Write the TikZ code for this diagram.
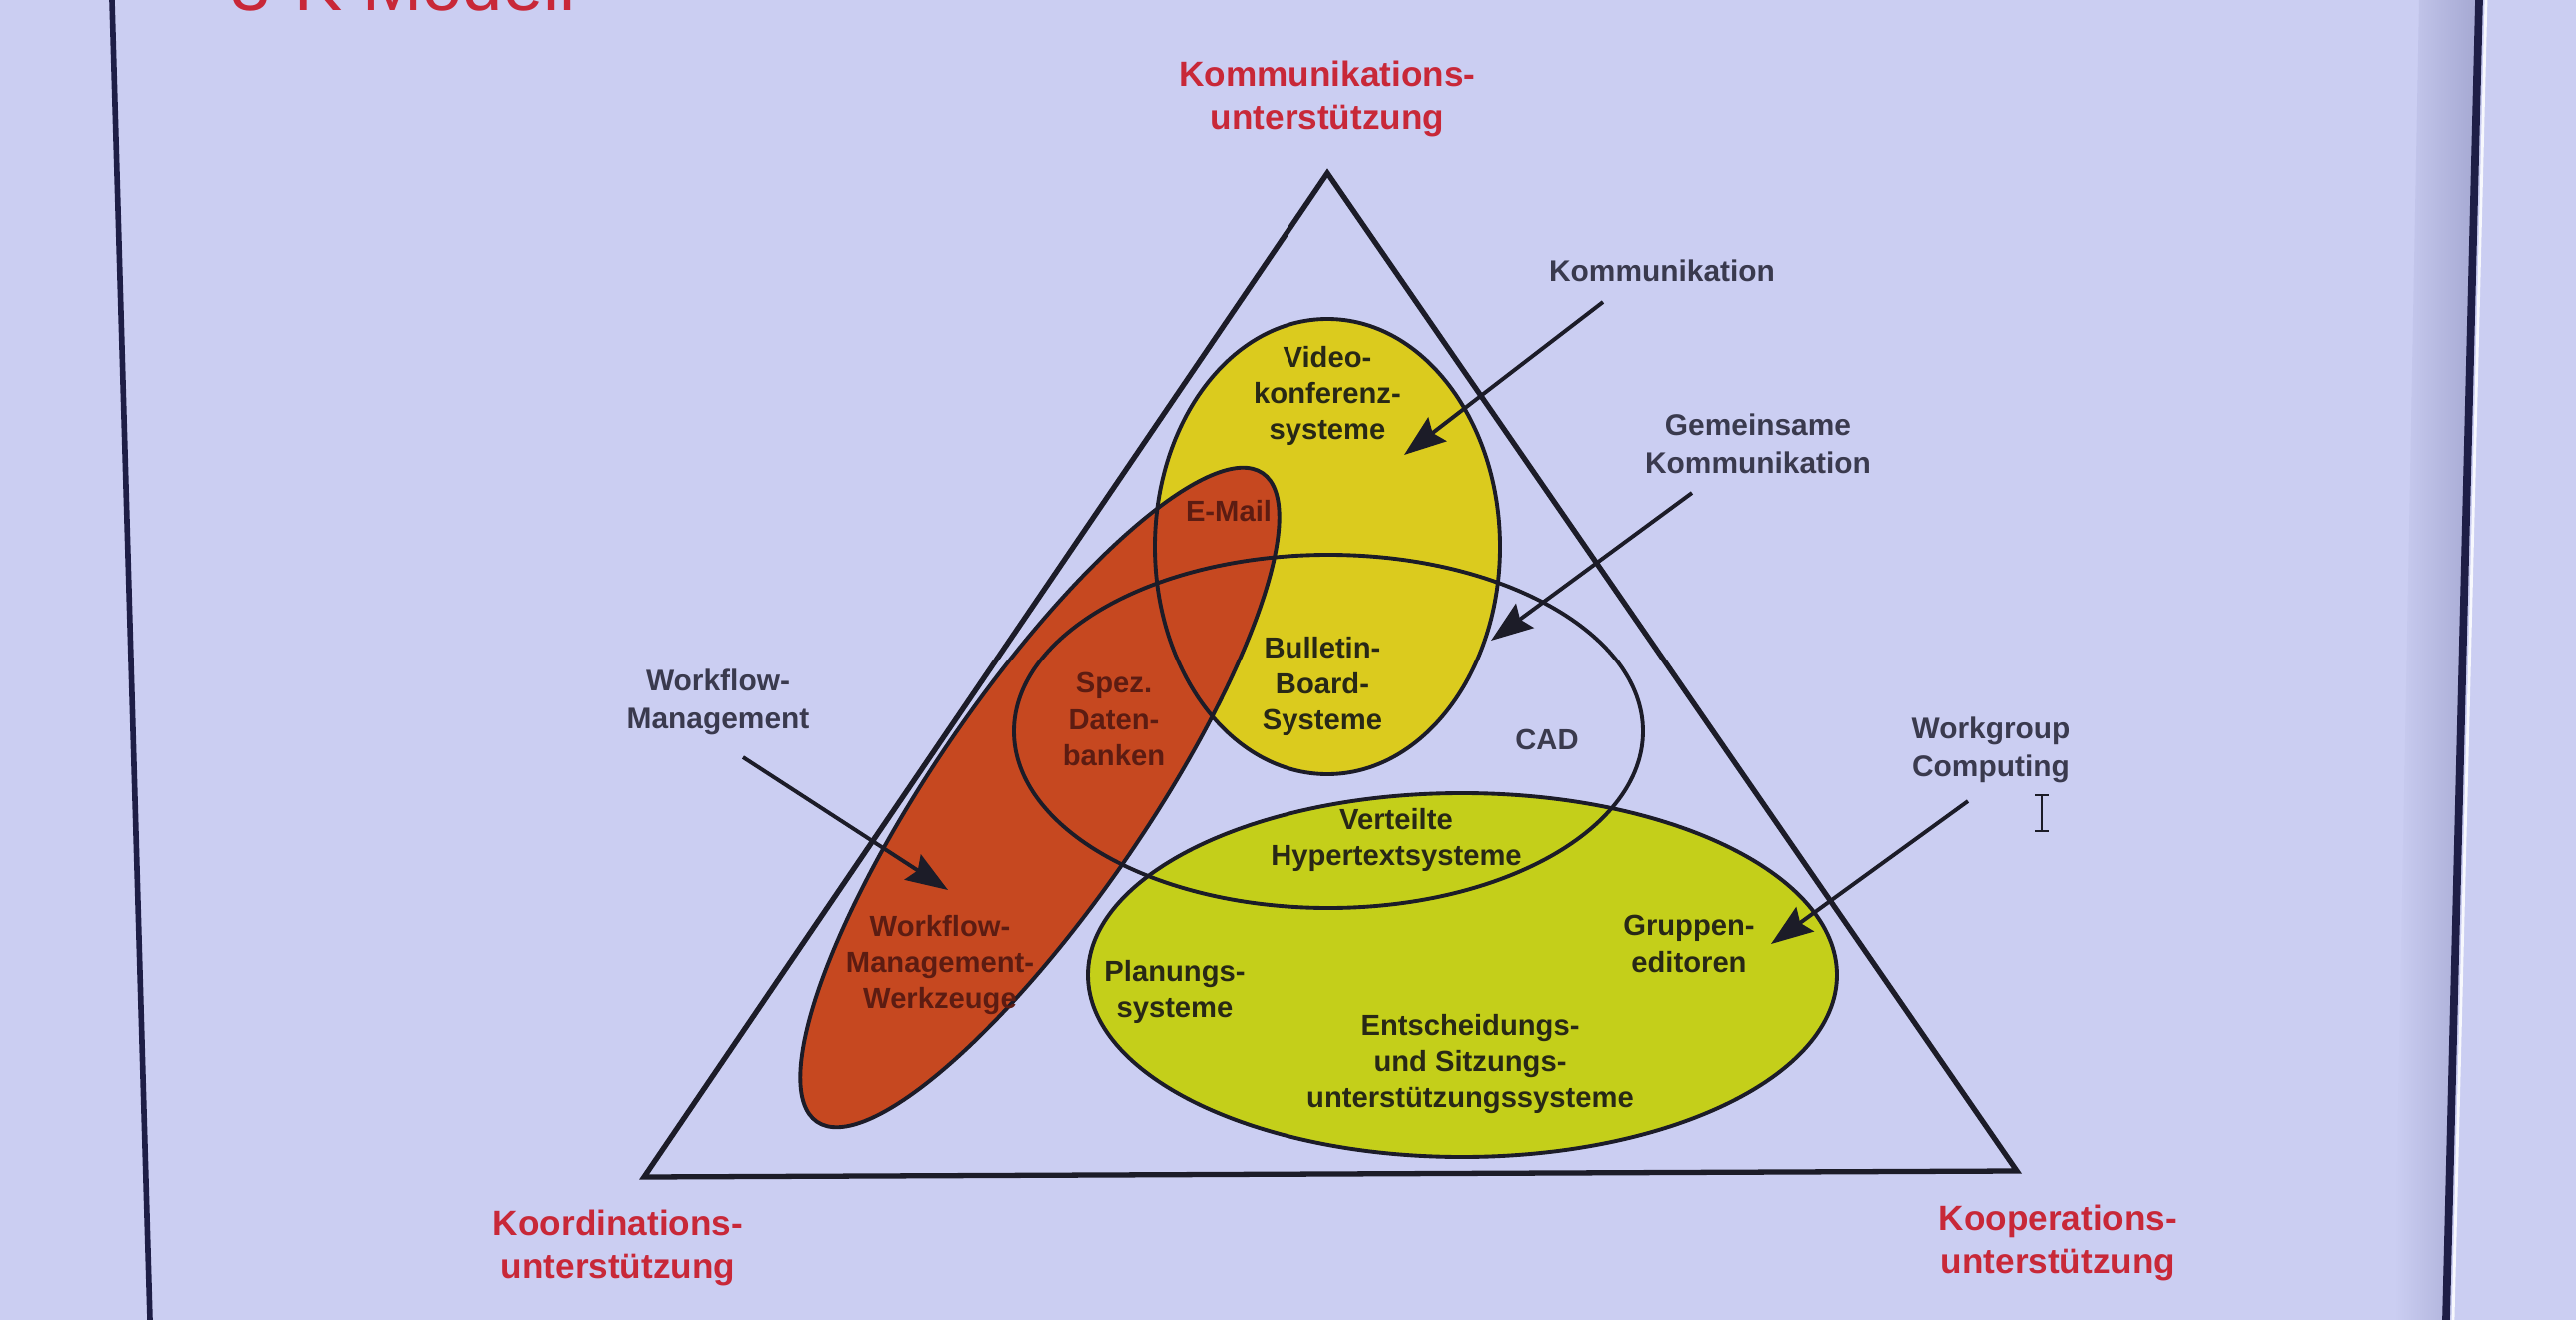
\documentclass[tikz,border=0pt]{standalone}
\usepackage{fontspec}
\setmainfont{Liberation Sans}
\usetikzlibrary{arrows.meta}
\definecolor{bgc}{RGB}{203,206,242}
\definecolor{shadowc}{RGB}{165,168,210}
\definecolor{framec}{RGB}{30,30,70}
\definecolor{yellowc}{RGB}{219,203,30}
\definecolor{redc}{RGB}{198,72,32}
\definecolor{greenc}{RGB}{196,207,26}
\definecolor{titlered}{RGB}{200,40,56}
\definecolor{inktext}{RGB}{40,40,22}
\definecolor{redtext}{RGB}{92,28,18}
\definecolor{greytext}{RGB}{58,58,78}
\definecolor{linec}{RGB}{28,28,40}
\tikzset{
  titlelbl/.style={text=titlered, font=\bfseries\fontsize{10}{12.2}\selectfont, align=center, inner sep=0pt},
  inlbl/.style={text=inktext, font=\bfseries\fontsize{8.3}{10.3}\selectfont, align=center, inner sep=0pt},
  redlbl/.style={inlbl, text=redtext},
  outlbl/.style={text=greytext, font=\bfseries\fontsize{8.5}{10.8}\selectfont, align=center, inner sep=0pt},
  ellline/.style={draw=linec, line width=1.1pt},
  triline/.style={draw=linec, line width=1.5pt, line join=miter},
  arr/.style={draw=linec, line width=1.1pt, -{Stealth[length=0.42cm,width=0.3cm,inset=0.06cm]}}
}
\begin{document}
\begin{tikzpicture}[x=0.01cm,y=-0.01cm]
\clip (0,0) rectangle (2577,1321);
\useasboundingbox (0,0) rectangle (2577,1321);
% screen background
\fill[bgc] (0,0) rectangle (2577,1321);
\shade[left color=bgc, right color=shadowc] (2420,0) -- (2478,0) -- (2445,1321) -- (2395,1321) -- cycle;
\draw[framec, line width=1.6pt] (112,0) -- (150,1321);
\draw[framec, line width=2.2pt] (2480,0) -- (2447,1321);
\draw[white!85!bgc, line width=0.8pt] (2487,0) -- (2454,1321);
% cut-off slide title
\node[anchor=base west, text=titlered, font=\fontsize{20.5}{24}\selectfont, inner sep=0pt] (slidetitle) at (230,11) {3-K Modell};
% fills
\fill[greenc] (1463,976) ellipse [x radius=375, y radius=182];
\fill[yellowc] (1328,547) ellipse [x radius=173, y radius=228];
\fill[redc, rotate around={55.5:(1040,798)}] (1040,798) ellipse [x radius=394, y radius=106];
% outlines
\draw[ellline] (1328,547) ellipse [x radius=173, y radius=228];
\draw[ellline, rotate around={55.5:(1040,798)}] (1040,798) ellipse [x radius=394, y radius=106];
\draw[ellline] (1329,732) ellipse [x radius=315, y radius=177];
\draw[ellline] (1463,976) ellipse [x radius=375, y radius=182];
\draw[triline] (1328,173) -- (644,1178) -- (2018,1172) -- cycle;
% corner titles
\node[titlelbl] (kommu) at (1328,99) {Kommunikations-\\unterstützung};
\node[titlelbl] (koord) at (618,1249) {Koordinations-\\unterstützung};
\node[titlelbl] (koop) at (2059,1244) {Kooperations-\\unterstützung};
% inner labels
\node[inlbl] (video) at (1328,396) {Video-\\konferenz-\\systeme};
\node[redlbl] (email) at (1229,511) {E-Mail};
\node[redlbl] (spez) at (1114,720) {Spez.\\Daten-\\banken};
\node[inlbl] (bbs) at (1323,687) {Bulletin-\\Board-\\Systeme};
\node[inlbl, text=greytext] (cad) at (1548,740) {CAD};
\node[inlbl] (vhs) at (1397,841) {Verteilte\\Hypertextsysteme};
\node[redlbl] (wmw) at (940,966) {Workflow-\\Management-\\Werkzeuge};
\node[inlbl] (plan) at (1175,993) {Planungs-\\systeme};
\node[inlbl] (grup) at (1690,945) {Gruppen-\\editoren};
\node[inlbl] (ents) at (1471,1065) {Entscheidungs-\\und Sitzungs-\\unterstützungssysteme};
% outer labels
\node[outlbl] (lkom) at (1663,271) {Kommunikation};
\node[outlbl] (lgem) at (1759,444) {Gemeinsame\\Kommunikation};
\node[outlbl] (lwfm) at (718,703) {Workflow-\\Management};
\node[outlbl] (lwgc) at (1992,751) {Workgroup\\Computing};
% arrow end points
\coordinate (kA) at (1604,302);
\coordinate (kB) at (1405,455);
\coordinate (gA) at (1693,493);
\coordinate (gB) at (1492,641);
\coordinate (wA) at (743,758);
\coordinate (wB) at (948,891);
\coordinate (cA) at (1969,802);
\coordinate (cB) at (1772,945);
\draw[arr] (kA) -- (kB);
\draw[arr] (gA) -- (gB);
\draw[arr] (wA) -- (wB);
\draw[arr] (cA) -- (cB);
% text cursor
\draw[linec, line width=0.6pt] (2043,796) -- (2043,832) (2036,796) -- (2050,796) (2036,832) -- (2050,832);
\end{tikzpicture}
\end{document}
